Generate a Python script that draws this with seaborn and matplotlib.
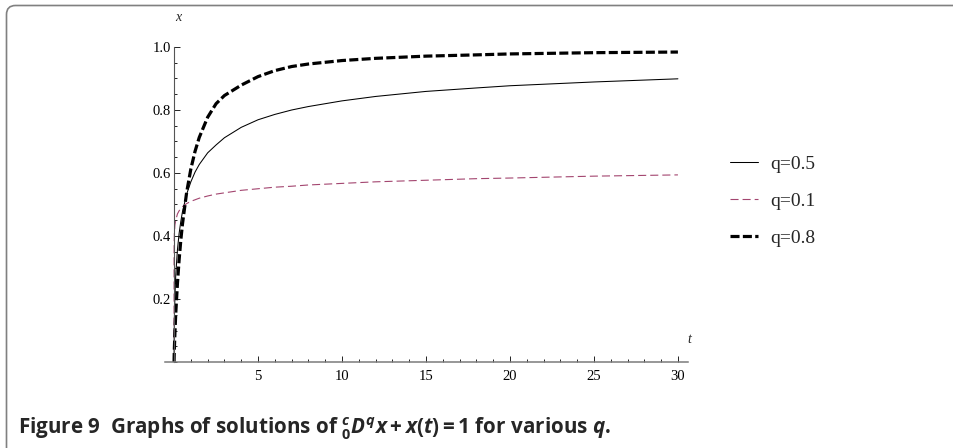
import matplotlib
matplotlib.use("Agg")
import matplotlib.pyplot as plt
from matplotlib import font_manager as fm
from matplotlib.patches import FancyBboxPatch
from matplotlib.transforms import IdentityTransform
from matplotlib.ticker import MultipleLocator, FixedLocator, FixedFormatter
import pandas as pd
import seaborn as sns

# time samples shared by the three solution curves
t = [0, 0.001, 0.005, 0.02, 0.05, 0.1, 0.2, 0.3, 0.4, 0.5, 0.75, 1, 1.25, 1.5,
     2, 2.5, 3, 4, 5, 6, 7, 8, 10, 12, 15, 18, 20, 25, 30]

x_q05 = [0, 0.035, 0.075, 0.142, 0.210, 0.276, 0.356, 0.408, 0.446, 0.477,
         0.533, 0.572, 0.603, 0.627, 0.664, 0.689, 0.712, 0.745, 0.769, 0.786,
         0.800, 0.811, 0.829, 0.843, 0.859, 0.870, 0.877, 0.889, 0.899]

x_q01 = [0, 0.345, 0.380, 0.410, 0.435, 0.450, 0.470, 0.480, 0.487, 0.493,
         0.503, 0.510, 0.515, 0.520, 0.527, 0.533, 0.537, 0.545, 0.550, 0.555,
         0.558, 0.562, 0.567, 0.572, 0.577, 0.582, 0.584, 0.590, 0.594]

x_q08 = [0, 0.004, 0.016, 0.046, 0.092, 0.154, 0.249, 0.324, 0.386, 0.438,
         0.539, 0.613, 0.669, 0.713, 0.777, 0.820, 0.846, 0.879, 0.906, 0.925,
         0.938, 0.946, 0.957, 0.964, 0.971, 0.975, 0.978, 0.982, 0.984]

labels = ["q=0.5", "q=0.1", "q=0.8"]
x_ticks = [5, 10, 15, 20, 25, 30]
y_ticks = [0.2, 0.4, 0.6, 0.8, 1.0]
y_tick_labels = ["0.2", "0.4", "0.6", "0.8", "1.0"]

df = pd.concat([
    pd.DataFrame({"t": t, "x": x_q05, "q": labels[0]}),
    pd.DataFrame({"t": t, "x": x_q01, "q": labels[1]}),
    pd.DataFrame({"t": t, "x": x_q08, "q": labels[2]}),
])

sns.set_style("white")
names = {f.name for f in fm.fontManager.ttflist}
serif = "Liberation Serif" if "Liberation Serif" in names else "DejaVu Serif"
cap_family = next((n for n in ["Liberation Sans Narrow", "Open Sans", "Noto Sans"]
                   if n in names), "DejaVu Sans")
plt.rcParams["font.family"] = [serif, "DejaVu Sans"]
plt.rcParams["lines.scale_dashes"] = False
plt.rcParams["mathtext.fontset"] = "custom"
plt.rcParams["mathtext.rm"] = f"{cap_family}:bold"
plt.rcParams["mathtext.it"] = f"{cap_family}:italic:bold"
plt.rcParams["mathtext.bf"] = f"{cap_family}:bold"

W, H = 954, 448
fig = plt.figure(figsize=(W / 100, H / 100), dpi=100)
fig.patch.set_facecolor("white")

# axes: x-axis spans px 165..688, y from 0 (px 362) to 1 (px 47)
ax = fig.add_axes([165 / W, (H - 362) / H, (688 - 165) / W, (362 - 47) / H])
ax.set_facecolor("white")

styles = {
    "q=0.5": dict(color="black", lw=0.75, ls="-"),
    "q=0.1": dict(color="#a3456f", lw=0.8, ls=(0, (5.8, 2.9))),
    "q=0.8": dict(color="black", lw=2.3, ls=(0, (6.5, 2.4))),
}
for lab in labels:
    st = styles[lab]
    sns.lineplot(data=df[df["q"] == lab], x="t", y="x", ax=ax, label=lab,
                 color=st["color"], linewidth=st["lw"], linestyle=st["ls"],
                 estimator=None, sort=True)
for ln in ax.lines:
    ln.set_clip_on(False)

ax.set_xlim(-0.54, 30.6)
ax.set_ylim(0, 1.0)
ax.set_xlabel("")
ax.set_ylabel("")

for s in ["top", "right"]:
    ax.spines[s].set_visible(False)
ax.spines["left"].set_position(("data", 0))
ax.spines["left"].set_color("#555555")
ax.spines["left"].set_linewidth(0.8)
ax.spines["bottom"].set_color("#7a7a7a")
ax.spines["bottom"].set_linewidth(1.1)

ax.xaxis.set_major_locator(FixedLocator(x_ticks))
ax.xaxis.set_minor_locator(MultipleLocator(1))
ax.yaxis.set_major_locator(FixedLocator(y_ticks))
ax.yaxis.set_major_formatter(FixedFormatter(y_tick_labels))
ax.yaxis.set_minor_locator(MultipleLocator(0.05))
ax.tick_params(which="both", direction="in", color="black", width=0.6,
               bottom=True, left=True, top=False, right=False,
               labelsize=10.5, labelcolor="black")
ax.tick_params(which="major", length=4.0)
ax.tick_params(which="minor", length=2.4)
ax.tick_params(axis="y", which="major", pad=2.5)
ax.tick_params(axis="x", which="major", pad=5.5)

ax.text(0.24, 1.095, "x", style="italic", fontsize=10, ha="center",
        va="center", clip_on=False)
ax.text(30.65, 0.07, "t", style="italic", fontsize=10, ha="center",
        va="center", clip_on=False)

leg = ax.legend(loc="upper left", bbox_to_anchor=(730 / W, 1 - 155.5 / H),
                bbox_transform=fig.transFigure, frameon=False, fontsize=14,
                handlelength=1.45, handletextpad=0.6, labelspacing=1.0,
                borderpad=0, borderaxespad=0)

# outer rounded frame
frame = FancyBboxPatch((6.5, -20), 980, H - 5.5 + 20,
                       boxstyle="round,pad=0,rounding_size=9",
                       transform=IdentityTransform(), fill=False,
                       edgecolor="#808080", linewidth=1.2)
fig.add_artist(frame)

fig.text(18 / W, 1 - 434 / H,
         r"Figure 9  Graphs of solutions of ${}^{c}_{0}D^{q}x+x(t)=1$ for various $q$.",
         family=[cap_family, "DejaVu Sans"], fontweight="bold", fontsize=14.9,
         ha="left", va="baseline")

fig.savefig("out.png", dpi=100)
